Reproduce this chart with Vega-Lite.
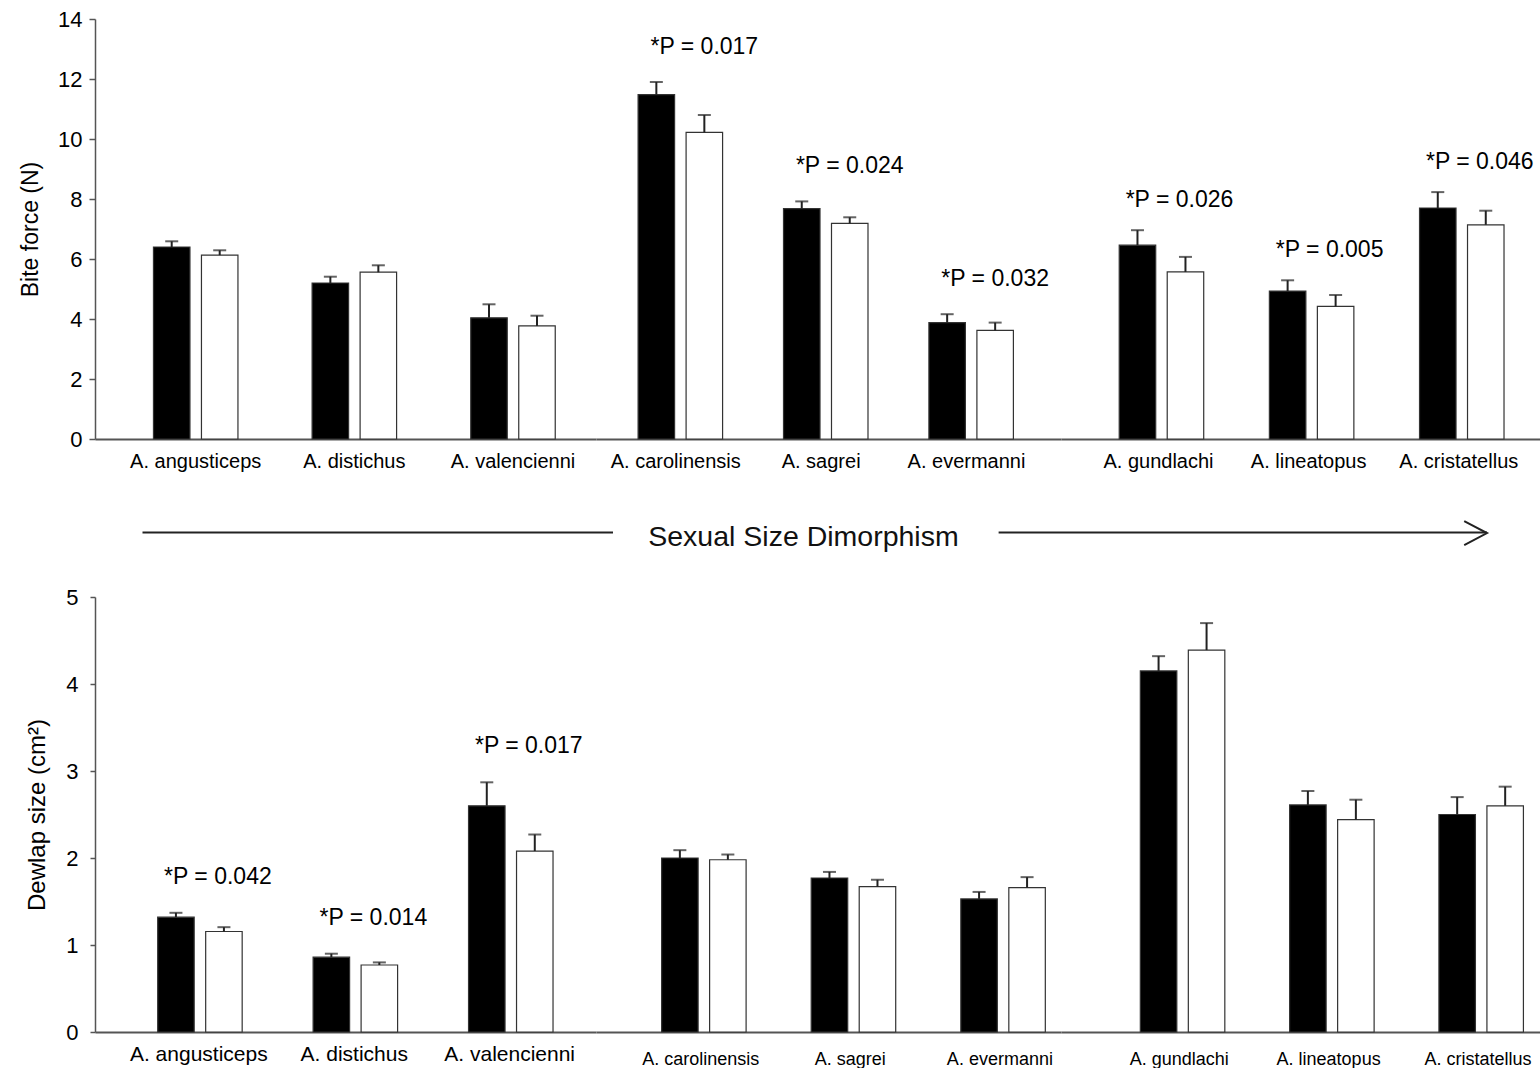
{
  "$schema": "https://vega.github.io/schema/vega-lite/v6.json",
  "padding": {"left": 19, "top": 8, "right": 0, "bottom": 0},
  "background": "white",
  "config": {
    "view": {"stroke": null},
    "font": "Liberation Sans",
    "axis": {"grid": false, "labelColor": "#000", "titleColor": "#000", "titleFontWeight": "normal", "labelFont": "Liberation Sans", "titleFont": "Liberation Sans"},
    "axisX": {"ticks": false, "tickSize": 0, "labelAngle": 0, "domainColor": "#555", "domainWidth": 2},
    "axisY": {"domainColor": "#555", "domainWidth": 1.5, "tickColor": "#555", "tickWidth": 1.5, "labelFontSize": 22, "titleFontSize": 23, "format": "d"}
  },
  "datasets": {
    "bars": [
      {"panel": "bite", "grp": 1, "species": "A. angusticeps", "sex": "M", "mean": 6.40, "upper": 6.59, "p": null},
      {"panel": "bite", "grp": 1, "species": "A. angusticeps", "sex": "F", "mean": 6.13, "upper": 6.29, "p": null},
      {"panel": "bite", "grp": 1, "species": "A. distichus", "sex": "M", "mean": 5.20, "upper": 5.41, "p": null},
      {"panel": "bite", "grp": 1, "species": "A. distichus", "sex": "F", "mean": 5.56, "upper": 5.79, "p": null},
      {"panel": "bite", "grp": 1, "species": "A. valencienni", "sex": "M", "mean": 4.04, "upper": 4.49, "p": null},
      {"panel": "bite", "grp": 1, "species": "A. valencienni", "sex": "F", "mean": 3.77, "upper": 4.11, "p": null},
      {"panel": "bite", "grp": 2, "species": "A. carolinensis", "sex": "M", "mean": 11.48, "upper": 11.90, "p": "*P = 0.017"},
      {"panel": "bite", "grp": 2, "species": "A. carolinensis", "sex": "F", "mean": 10.22, "upper": 10.80, "p": "*P = 0.017"},
      {"panel": "bite", "grp": 2, "species": "A. sagrei", "sex": "M", "mean": 7.68, "upper": 7.92, "p": "*P = 0.024"},
      {"panel": "bite", "grp": 2, "species": "A. sagrei", "sex": "F", "mean": 7.19, "upper": 7.39, "p": "*P = 0.024"},
      {"panel": "bite", "grp": 2, "species": "A. evermanni", "sex": "M", "mean": 3.88, "upper": 4.16, "p": "*P = 0.032"},
      {"panel": "bite", "grp": 2, "species": "A. evermanni", "sex": "F", "mean": 3.62, "upper": 3.88, "p": "*P = 0.032"},
      {"panel": "bite", "grp": 3, "species": "A. gundlachi", "sex": "M", "mean": 6.46, "upper": 6.96, "p": "*P = 0.026"},
      {"panel": "bite", "grp": 3, "species": "A. gundlachi", "sex": "F", "mean": 5.57, "upper": 6.07, "p": "*P = 0.026"},
      {"panel": "bite", "grp": 3, "species": "A. lineatopus", "sex": "M", "mean": 4.93, "upper": 5.29, "p": "*P = 0.005"},
      {"panel": "bite", "grp": 3, "species": "A. lineatopus", "sex": "F", "mean": 4.42, "upper": 4.80, "p": "*P = 0.005"},
      {"panel": "bite", "grp": 3, "species": "A. cristatellus", "sex": "M", "mean": 7.70, "upper": 8.23, "p": "*P = 0.046"},
      {"panel": "bite", "grp": 3, "species": "A. cristatellus", "sex": "F", "mean": 7.14, "upper": 7.61, "p": "*P = 0.046"},
      {"panel": "dewlap", "grp": 1, "species": "A. angusticeps", "sex": "M", "mean": 1.32, "upper": 1.37, "p": "*P = 0.042"},
      {"panel": "dewlap", "grp": 1, "species": "A. angusticeps", "sex": "F", "mean": 1.155, "upper": 1.205, "p": "*P = 0.042"},
      {"panel": "dewlap", "grp": 1, "species": "A. distichus", "sex": "M", "mean": 0.86, "upper": 0.90, "p": "*P = 0.014"},
      {"panel": "dewlap", "grp": 1, "species": "A. distichus", "sex": "F", "mean": 0.77, "upper": 0.80, "p": "*P = 0.014"},
      {"panel": "dewlap", "grp": 1, "species": "A. valencienni", "sex": "M", "mean": 2.60, "upper": 2.87, "p": "*P = 0.017"},
      {"panel": "dewlap", "grp": 1, "species": "A. valencienni", "sex": "F", "mean": 2.08, "upper": 2.27, "p": "*P = 0.017"},
      {"panel": "dewlap", "grp": 2, "species": "A. carolinensis", "sex": "M", "mean": 2.00, "upper": 2.09, "p": null},
      {"panel": "dewlap", "grp": 2, "species": "A. carolinensis", "sex": "F", "mean": 1.98, "upper": 2.04, "p": null},
      {"panel": "dewlap", "grp": 2, "species": "A. sagrei", "sex": "M", "mean": 1.77, "upper": 1.84, "p": null},
      {"panel": "dewlap", "grp": 2, "species": "A. sagrei", "sex": "F", "mean": 1.67, "upper": 1.75, "p": null},
      {"panel": "dewlap", "grp": 2, "species": "A. evermanni", "sex": "M", "mean": 1.53, "upper": 1.61, "p": null},
      {"panel": "dewlap", "grp": 2, "species": "A. evermanni", "sex": "F", "mean": 1.66, "upper": 1.78, "p": null},
      {"panel": "dewlap", "grp": 3, "species": "A. gundlachi", "sex": "M", "mean": 4.15, "upper": 4.32, "p": null},
      {"panel": "dewlap", "grp": 3, "species": "A. gundlachi", "sex": "F", "mean": 4.39, "upper": 4.70, "p": null},
      {"panel": "dewlap", "grp": 3, "species": "A. lineatopus", "sex": "M", "mean": 2.61, "upper": 2.77, "p": null},
      {"panel": "dewlap", "grp": 3, "species": "A. lineatopus", "sex": "F", "mean": 2.44, "upper": 2.67, "p": null},
      {"panel": "dewlap", "grp": 3, "species": "A. cristatellus", "sex": "M", "mean": 2.50, "upper": 2.70, "p": null},
      {"panel": "dewlap", "grp": 3, "species": "A. cristatellus", "sex": "F", "mean": 2.60, "upper": 2.82, "p": null}
    ]
  },
  "columns": 3,
  "spacing": 0,
  "bounds": "flush",
  "align": "each",
  "concat": [
    {
      "width": 501, "height": 420,
      "data": {"name": "bars"},
      "transform": [{"filter": "datum.panel === 'bite' && datum.grp === 1"}],
      "encoding": {
        "x": {"field": "species", "type": "nominal", "sort": ["A. angusticeps", "A. distichus", "A. valencienni"], "scale": {"paddingInner": 0.3, "paddingOuter": 0.229, "align": 0.6218}, "axis": {"title": null, "labelFontSize": 20, "labelPadding": 12}},
        "xOffset": {"field": "sex", "type": "nominal", "sort": ["M", "F"], "scale": {"paddingInner": 0.2396, "paddingOuter": 0.2767}}
      },
      "layer": [
        {"mark": {"type": "bar", "stroke": "#333", "strokeWidth": 1.2},
         "encoding": {"y": {"field": "mean", "type": "quantitative", "title": "Bite force (N)", "scale": {"domain": [0, 14], "nice": false}, "axis": {"values": [0, 2, 4, 6, 8, 10, 12, 14], "tickSize": 6, "labelPadding": 7, "titlePadding": 15}},
                      "fill": {"field": "sex", "type": "nominal", "scale": {"domain": ["M", "F"], "range": ["#000000", "#ffffff"]}, "legend": null}}},
        {"mark": {"type": "rule", "strokeWidth": 2, "color": "#222"},
         "encoding": {"y": {"field": "mean", "type": "quantitative", "title": "Bite force (N)", "scale": {"domain": [0, 14], "nice": false}}, "y2": {"field": "upper"}}},
        {"mark": {"type": "tick", "size": 13, "thickness": 2, "color": "#222", "orient": "horizontal"},
         "encoding": {"y": {"field": "upper", "type": "quantitative", "title": "Bite force (N)", "scale": {"domain": [0, 14], "nice": false}}}}
      ]
    },
    {
      "width": 465, "height": 420,
      "data": {"name": "bars"},
      "transform": [{"filter": "datum.panel === 'bite' && datum.grp === 2"}],
      "encoding": {
        "x": {"field": "species", "type": "nominal", "sort": ["A. carolinensis", "A. sagrei", "A. evermanni"], "scale": {"paddingInner": 0.3, "paddingOuter": 0.249, "align": 0.398}, "axis": {"title": null, "labelFontSize": 20, "labelPadding": 12}},
        "xOffset": {"field": "sex", "type": "nominal", "sort": ["M", "F"], "scale": {"paddingInner": 0.2975, "paddingOuter": 0.3133}}
      },
      "layer": [
        {"mark": {"type": "bar", "stroke": "#333", "strokeWidth": 1.2},
         "encoding": {"y": {"field": "mean", "type": "quantitative", "scale": {"domain": [0, 14], "nice": false}, "axis": null},
                      "fill": {"field": "sex", "type": "nominal", "scale": {"domain": ["M", "F"], "range": ["#000000", "#ffffff"]}, "legend": null}}},
        {"mark": {"type": "rule", "strokeWidth": 2, "color": "#222"},
         "encoding": {"y": {"field": "mean", "type": "quantitative", "scale": {"domain": [0, 14], "nice": false}, "axis": null}, "y2": {"field": "upper"}}},
        {"mark": {"type": "tick", "size": 13, "thickness": 2, "color": "#222", "orient": "horizontal"},
         "encoding": {"y": {"field": "upper", "type": "quantitative", "scale": {"domain": [0, 14], "nice": false}, "axis": null}}},
        {"transform": [{"joinaggregate": [{"op": "max", "field": "upper", "as": "ymax"}], "groupby": ["species"]}, {"filter": "datum.sex === 'F' && datum.p != null"}],
         "mark": {"type": "text", "fontSize": 23, "dy": -35, "baseline": "middle", "color": "#000"},
         "encoding": {"y": {"field": "ymax", "type": "quantitative", "scale": {"domain": [0, 14], "nice": false}, "axis": null}, "text": {"field": "p"}}}
      ]
    },
    {
      "width": 480, "height": 420,
      "data": {"name": "bars"},
      "transform": [{"filter": "datum.panel === 'bite' && datum.grp === 3"}],
      "encoding": {
        "x": {"field": "species", "type": "nominal", "sort": ["A. gundlachi", "A. lineatopus", "A. cristatellus"], "scale": {"paddingInner": 0.3, "paddingOuter": 0.2484, "align": 0.6025}, "axis": {"title": null, "labelFontSize": 20, "labelPadding": 12}},
        "xOffset": {"field": "sex", "type": "nominal", "sort": ["M", "F"], "scale": {"paddingInner": 0.2949, "paddingOuter": 0.3126}}
      },
      "layer": [
        {"mark": {"type": "bar", "stroke": "#333", "strokeWidth": 1.2},
         "encoding": {"y": {"field": "mean", "type": "quantitative", "scale": {"domain": [0, 14], "nice": false}, "axis": null},
                      "fill": {"field": "sex", "type": "nominal", "scale": {"domain": ["M", "F"], "range": ["#000000", "#ffffff"]}, "legend": null}}},
        {"mark": {"type": "rule", "strokeWidth": 2, "color": "#222"},
         "encoding": {"y": {"field": "mean", "type": "quantitative", "scale": {"domain": [0, 14], "nice": false}, "axis": null}, "y2": {"field": "upper"}}},
        {"mark": {"type": "tick", "size": 13, "thickness": 2, "color": "#222", "orient": "horizontal"},
         "encoding": {"y": {"field": "upper", "type": "quantitative", "scale": {"domain": [0, 14], "nice": false}, "axis": null}}},
        {"transform": [{"joinaggregate": [{"op": "max", "field": "upper", "as": "ymax"}], "groupby": ["species"]}, {"filter": "datum.sex === 'F' && datum.p != null"}],
         "mark": {"type": "text", "fontSize": 23, "dy": -30, "dx": -6, "baseline": "middle", "color": "#000"},
         "encoding": {"y": {"field": "ymax", "type": "quantitative", "scale": {"domain": [0, 14], "nice": false}, "axis": null}, "text": {"field": "p"}}}
      ]
    },
    {
      "width": 501, "height": 158,
      "data": {"values": [{}]},
      "layer": [
        {"mark": {"type": "rule", "clip": true, "strokeWidth": 2, "color": "#222"},
         "encoding": {"x": {"datum": 0, "type": "quantitative", "scale": {"domain": [-0.03533, 0.3373], "nice": false, "zero": false}, "axis": null}, "x2": {"datum": 0.34994},
                      "y": {"datum": 0.408, "type": "quantitative", "scale": {"domain": [0, 1], "nice": false}, "axis": null}}}
      ]
    },
    {
      "width": 465, "height": 158,
      "data": {"values": [{}]},
      "layer": [
        {"mark": {"type": "rule", "clip": true, "strokeWidth": 2, "color": "#222"},
         "encoding": {"x": {"datum": 0, "type": "quantitative", "scale": {"domain": [0.3373, 0.68315], "nice": false, "zero": false}, "axis": null}, "x2": {"datum": 0.34994},
                      "y": {"datum": 0.408, "type": "quantitative", "scale": {"domain": [0, 1], "nice": false}, "axis": null}}},
        {"mark": {"type": "rule", "clip": true, "strokeWidth": 2, "color": "#222"},
         "encoding": {"x": {"datum": 0.63675, "type": "quantitative", "scale": {"domain": [0.3373, 0.68315], "nice": false, "zero": false}, "axis": null}, "x2": {"datum": 1},
                      "y": {"datum": 0.408, "type": "quantitative", "scale": {"domain": [0, 1], "nice": false}, "axis": null}}},
        {"mark": {"type": "text", "fontSize": 28.5, "baseline": "middle", "align": "center", "color": "#111"},
         "encoding": {"x": {"datum": 0.4916, "type": "quantitative", "scale": {"domain": [0.3373, 0.68315], "nice": false, "zero": false}, "axis": null},
                      "y": {"datum": 0.38, "type": "quantitative", "scale": {"domain": [0, 1], "nice": false}, "axis": null},
                      "text": {"value": "Sexual Size Dimorphism"}}}
      ]
    },
    {
      "width": 480, "height": 158,
      "data": {"values": [{}]},
      "layer": [
        {"mark": {"type": "rule", "clip": true, "strokeWidth": 2, "color": "#222"},
         "encoding": {"x": {"datum": 0.63675, "type": "quantitative", "scale": {"domain": [0.68315, 1.04016], "nice": false, "zero": false}, "axis": null}, "x2": {"datum": 1},
                      "y": {"datum": 0.408, "type": "quantitative", "scale": {"domain": [0, 1], "nice": false}, "axis": null}}},
        {"mark": {"type": "point", "shape": "M-1.9,-1L0,0L-1.9,1", "size": 576, "filled": false, "stroke": "#222", "strokeWidth": 2, "opacity": 1},
         "encoding": {"x": {"datum": 1, "type": "quantitative", "scale": {"domain": [0.68315, 1.04016], "nice": false, "zero": false}, "axis": null},
                      "y": {"datum": 0.405, "type": "quantitative", "scale": {"domain": [0, 1], "nice": false}, "axis": null}}}
      ]
    },
    {
      "width": 501, "height": 435,
      "data": {"name": "bars"},
      "transform": [{"filter": "datum.panel === 'dewlap' && datum.grp === 1"}],
      "encoding": {
        "x": {"field": "species", "type": "nominal", "sort": ["A. angusticeps", "A. distichus", "A. valencienni"], "scale": {"paddingInner": 0.3, "paddingOuter": 0.2617, "align": 0.6073}, "axis": {"title": null, "labelFontSize": 21, "labelPadding": 11}},
        "xOffset": {"field": "sex", "type": "nominal", "sort": ["M", "F"], "scale": {"paddingInner": 0.3034, "paddingOuter": 0.3139}}
      },
      "layer": [
        {"mark": {"type": "bar", "stroke": "#333", "strokeWidth": 1.2},
         "encoding": {"y": {"field": "mean", "type": "quantitative", "title": "Dewlap size (cm²)", "scale": {"domain": [0, 5], "nice": false}, "axis": {"values": [0, 1, 2, 3, 4, 5], "format": "d", "tickSize": 5, "labelPadding": 12, "titlePadding": 16, "titleFontSize": 24}},
                      "fill": {"field": "sex", "type": "nominal", "scale": {"domain": ["M", "F"], "range": ["#000000", "#ffffff"]}, "legend": null}}},
        {"mark": {"type": "rule", "strokeWidth": 2, "color": "#222"},
         "encoding": {"y": {"field": "mean", "type": "quantitative", "title": "Dewlap size (cm²)", "scale": {"domain": [0, 5], "nice": false}}, "y2": {"field": "upper"}}},
        {"mark": {"type": "tick", "size": 13, "thickness": 2, "color": "#222", "orient": "horizontal"},
         "encoding": {"y": {"field": "upper", "type": "quantitative", "title": "Dewlap size (cm²)", "scale": {"domain": [0, 5], "nice": false}}}},
        {"transform": [{"joinaggregate": [{"op": "max", "field": "upper", "as": "ymax"}], "groupby": ["species"]}, {"filter": "datum.sex === 'F' && datum.p != null"}],
         "mark": {"type": "text", "fontSize": 23, "dy": -36, "dx": -6, "baseline": "middle", "color": "#000"},
         "encoding": {"y": {"field": "ymax", "type": "quantitative", "title": "Dewlap size (cm²)", "scale": {"domain": [0, 5], "nice": false}}, "text": {"field": "p"}}}
      ]
    },
    {
      "width": 465, "height": 435,
      "data": {"name": "bars"},
      "transform": [{"filter": "datum.panel === 'dewlap' && datum.grp === 2"}],
      "encoding": {
        "x": {"field": "species", "type": "nominal", "sort": ["A. carolinensis", "A. sagrei", "A. evermanni"], "scale": {"paddingInner": 0.3, "paddingOuter": 0.2041, "align": 0.857}, "axis": {"title": null, "labelFontSize": 18, "labelPadding": 18}},
        "xOffset": {"field": "sex", "type": "nominal", "sort": ["M", "F"], "scale": {"paddingInner": 0.2933, "paddingOuter": 0.3102}}
      },
      "layer": [
        {"mark": {"type": "bar", "stroke": "#333", "strokeWidth": 1.2},
         "encoding": {"y": {"field": "mean", "type": "quantitative", "scale": {"domain": [0, 5], "nice": false}, "axis": null},
                      "fill": {"field": "sex", "type": "nominal", "scale": {"domain": ["M", "F"], "range": ["#000000", "#ffffff"]}, "legend": null}}},
        {"mark": {"type": "rule", "strokeWidth": 2, "color": "#222"},
         "encoding": {"y": {"field": "mean", "type": "quantitative", "scale": {"domain": [0, 5], "nice": false}, "axis": null}, "y2": {"field": "upper"}}},
        {"mark": {"type": "tick", "size": 13, "thickness": 2, "color": "#222", "orient": "horizontal"},
         "encoding": {"y": {"field": "upper", "type": "quantitative", "scale": {"domain": [0, 5], "nice": false}, "axis": null}}}
      ]
    },
    {
      "width": 480, "height": 435,
      "data": {"name": "bars"},
      "transform": [{"filter": "datum.panel === 'dewlap' && datum.grp === 3"}],
      "encoding": {
        "x": {"field": "species", "type": "nominal", "sort": ["A. gundlachi", "A. lineatopus", "A. cristatellus"], "scale": {"paddingInner": 0.3, "paddingOuter": 0.2575, "align": 0.859}, "axis": {"title": null, "labelFontSize": 18, "labelPadding": 18}},
        "xOffset": {"field": "sex", "type": "nominal", "sort": ["M", "F"], "scale": {"paddingInner": 0.2949, "paddingOuter": 0.3061}}
      },
      "layer": [
        {"mark": {"type": "bar", "stroke": "#333", "strokeWidth": 1.2},
         "encoding": {"y": {"field": "mean", "type": "quantitative", "scale": {"domain": [0, 5], "nice": false}, "axis": null},
                      "fill": {"field": "sex", "type": "nominal", "scale": {"domain": ["M", "F"], "range": ["#000000", "#ffffff"]}, "legend": null}}},
        {"mark": {"type": "rule", "strokeWidth": 2, "color": "#222"},
         "encoding": {"y": {"field": "mean", "type": "quantitative", "scale": {"domain": [0, 5], "nice": false}, "axis": null}, "y2": {"field": "upper"}}},
        {"mark": {"type": "tick", "size": 13, "thickness": 2, "color": "#222", "orient": "horizontal"},
         "encoding": {"y": {"field": "upper", "type": "quantitative", "scale": {"domain": [0, 5], "nice": false}, "axis": null}}}
      ]
    }
  ]
}
